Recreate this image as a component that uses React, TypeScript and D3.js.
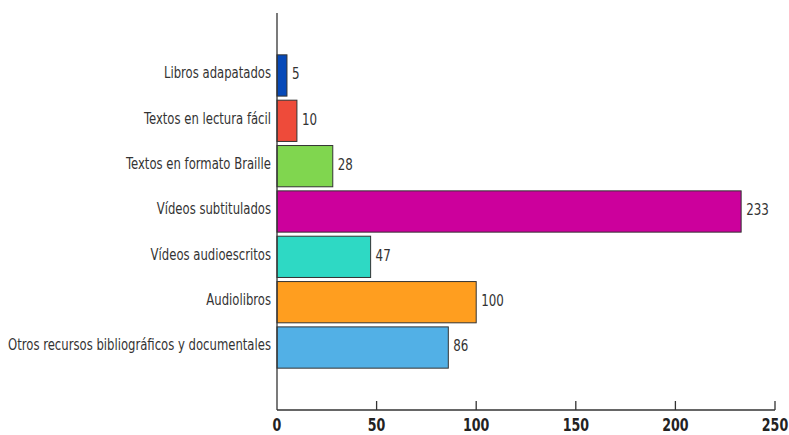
import React from "react";
import * as d3 from "d3";

const categories = [
  "Libros adapatados",
  "Textos en lectura fácil",
  "Textos en formato Braille",
  "Vídeos subtitulados",
  "Vídeos audioescritos",
  "Audiolibros",
  "Otros recursos bibliográficos y documentales",
];
const values = [5, 10, 28, 233, 47, 100, 86];
const colors = ["#0649B8", "#EE4B3A", "#80D64F", "#CC009C", "#2ED9C4", "#FF9E1F", "#52B0E6"];
const xTicks = [0, 50, 100, 150, 200, 250];

const FONT = "'DejaVu Sans', sans-serif";

function CText(props: { x: number; y: number; sx: number; anchor: string; size: number; weight?: string; fill: string; dy?: string; children: any }) {
  return (
    <text
      transform={`translate(${props.x},${props.y}) scale(${props.sx},1)`}
      dy={props.dy ?? "0.35em"}
      textAnchor={props.anchor}
      fontSize={props.size}
      fontWeight={props.weight || "normal"}
      fill={props.fill}
      style={{ fontStretch: "condensed" }}
    >
      {props.children}
    </text>
  );
}

export default function App() {
  const W = 789, H = 435;
  const x0 = 277, x1 = 775, axisY = 410, axisTop = 13;
  const x = d3.scaleLinear().domain([0, 250]).range([x0, x1]);
  const y = d3.scaleBand<string>().domain(categories).range([52.8, 370.2]).paddingInner(0.09).paddingOuter(0.045);

  return (
    <svg width={W} height={H} style={{ position: "absolute", left: 0, top: 0, background: "#fff" }} fontFamily={FONT}>
      {categories.map((c, i) => (
        <g key={c}>
          <rect
            x={x(0)}
            y={y(c)!}
            width={x(values[i]) - x(0)}
            height={y.bandwidth()}
            fill={colors[i]}
            stroke="#333"
            strokeWidth={1}
          />
          <CText x={x(0) - 6} y={y(c)! + y.bandwidth() / 2 - 3} sx={0.785} anchor="end" size={16.5} fill="#333">
            {c}
          </CText>
          <CText x={x(values[i]) + 5} y={y(c)! + y.bandwidth() / 2 - 2} sx={0.8} anchor="start" size={16.5} fill="#333">
            {values[i]}
          </CText>
        </g>
      ))}
      <line x1={x0} x2={x0} y1={axisTop} y2={axisY} stroke="#333" strokeWidth={1.3} />
      <line x1={x0} x2={x1} y1={axisY} y2={axisY} stroke="#333" strokeWidth={1.3} />
      {xTicks.map((t) => (
        <g key={t}>
          {t > 0 && <line x1={x(t)} x2={x(t)} y1={axisY - 9} y2={axisY} stroke="#333" strokeWidth={1.3} />}
          <CText x={x(t)} y={430.5} dy="0" sx={0.78} anchor="middle" size={18} weight="bold" fill="#222">
            {t}
          </CText>
        </g>
      ))}
    </svg>
  );
}
